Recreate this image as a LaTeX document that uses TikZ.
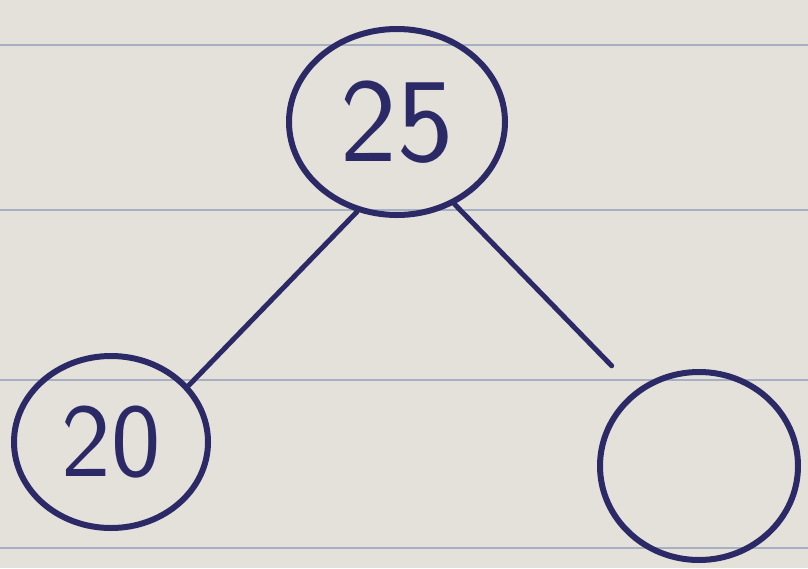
\documentclass[tikz,border=0pt]{standalone}
\usetikzlibrary{shapes.geometric}
\definecolor{paper}{HTML}{E4E1DA}
\definecolor{rule}{HTML}{A7B0C2}
\definecolor{ink}{HTML}{2B2A66}
\begin{document}
\begin{tikzpicture}[x=1pt,y=-1pt,
  treenode/.style={ellipse,draw=ink,line width=6pt,inner sep=0pt,text=ink,font=\sffamily},
  edgeline/.style={draw=ink,line width=5pt,line cap=round},
  paperline/.style={draw=rule,line width=2.5pt}]
\fill[paper] (0,0) rectangle (808,568);
\useasboundingbox (0,0) rectangle (808,568);
\foreach \y in {45,210,380,548} \draw[paperline] (0,\y) -- (808,\y);
\node[treenode,minimum width=216pt,minimum height=186pt] (root) at (397,122) {\fontsize{120}{120}\selectfont 25};
\node[treenode,minimum width=194pt,minimum height=172pt] (left) at (111,442) {\fontsize{105}{105}\selectfont 20};
\node[treenode,minimum width=198pt,minimum height=188pt] (right) at (699,466) {};
\draw[edgeline] (root.246) -- (left.36);
\draw[edgeline,shorten >=34pt] (root.305) -- (right.130);
\end{tikzpicture}
\end{document}
